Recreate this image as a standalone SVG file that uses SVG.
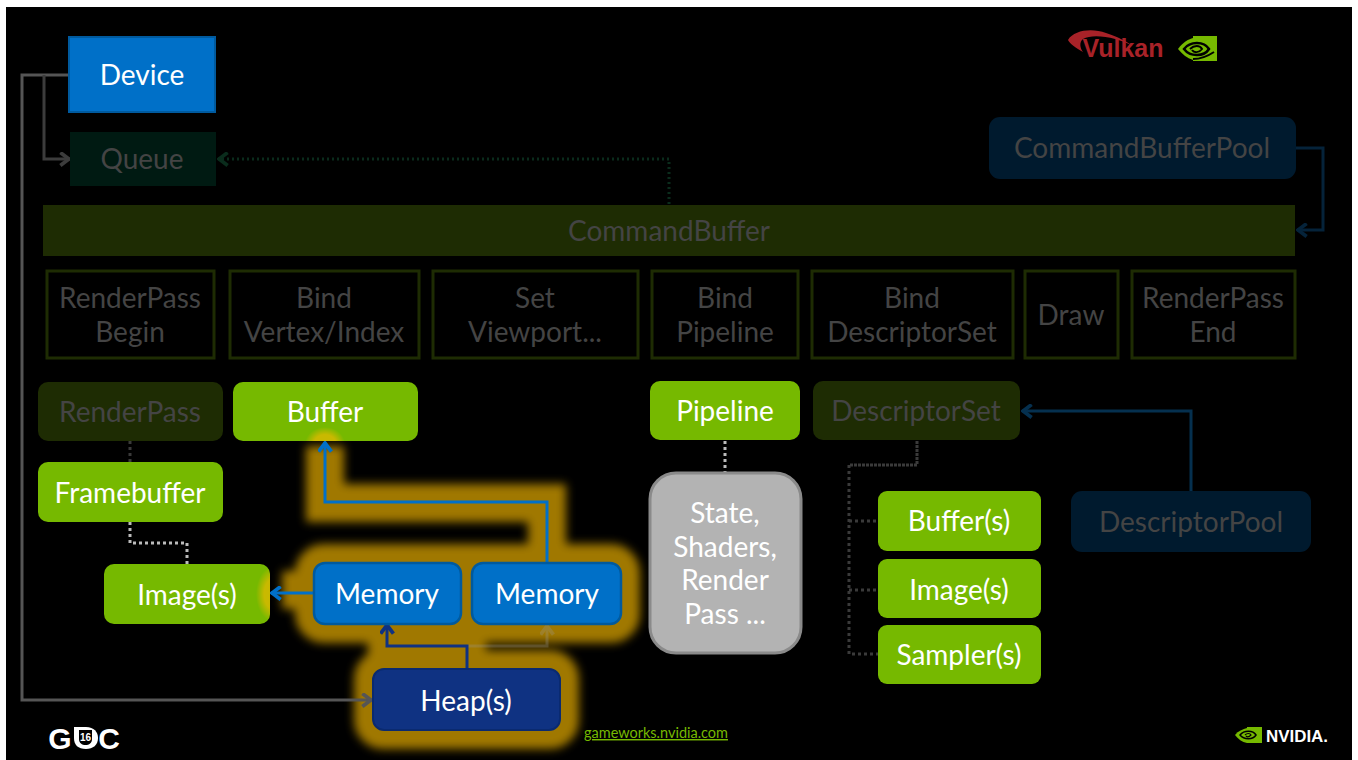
<svg xmlns="http://www.w3.org/2000/svg" width="1358" height="760" viewBox="0 0 1358 760">
<style>
text{font-family:Lato,"Noto Sans",sans-serif;font-size:28px;text-anchor:middle;fill:#fff}
.dim{fill:#444}
.green{fill:#76b900}
.dgreen{fill:#1e2c03}
.dblue{fill:#001a2e}
.outline{fill:none;stroke:#1e2c03;stroke-width:3}
.conn{fill:none;stroke-width:3}
.bold{font-family:"Liberation Sans",Arial,sans-serif;font-weight:700}
</style>
<defs>
<filter id="glow" x="-30%" y="-30%" width="160%" height="160%"><feGaussianBlur stdDeviation="5"/></filter>
<marker id="ah" viewBox="0 0 12 14" refX="11" refY="7" markerWidth="13" markerHeight="15" markerUnits="userSpaceOnUse" orient="auto"><path d="M2 1L10 7L2 13" fill="none" stroke="context-stroke" stroke-width="3.5"/></marker>
<radialGradient id="hot"><stop offset="0" stop-color="#c9b900"/><stop offset=".55" stop-color="#c9b900"/><stop offset="1" stop-color="#c9b900" stop-opacity="0"/></radialGradient>
<clipPath id="clip-buffer"><rect x="233" y="382" width="185" height="59" rx="10"/></clipPath>
<clipPath id="clip-image"><rect x="104" y="564" width="166" height="60" rx="10"/></clipPath>
</defs>
<rect width="1358" height="760" fill="#fff"/>
<rect x="6" y="7" width="1346" height="753" fill="#000"/>
<g id="glow-layer" fill="#a07800" stroke="#a07800" stroke-width="38" filter="url(#glow)">
<rect x="314" y="563" width="307" height="61" rx="10"/>
<rect x="373" y="669" width="187" height="61" rx="10"/>
<path d="M325 446V503H547V562M387 624V646H467V669M313 590H282" fill="none"/>
</g>
<g id="connectors">
<path class="conn" d="M68 75H22V700H372" stroke="#555" marker-end="url(#ah)"/>
<path class="conn" d="M44 75V159H70" stroke="#3c3c3c" marker-end="url(#ah)"/>
<path class="conn" d="M669 204V159H218" stroke="#0a2c1c" stroke-dasharray="2 3" marker-end="url(#ah)"/>
<path class="conn" d="M1296 148H1323V230H1297" stroke="#05233a" marker-end="url(#ah)"/>
<path class="conn" d="M130 441V462" stroke="#3a3a3a" stroke-dasharray="3 3"/>
<path class="conn" d="M130 522V543H187V564" stroke="#bbb" stroke-dasharray="3 3"/>
<path class="conn" d="M725 441V472" stroke="#bbb" stroke-dasharray="3 3"/>
<path class="conn" d="M917 441V465H849" stroke="#3a3a3a" stroke-dasharray="3 1"/>
<path class="conn" d="M849 465V654H878M849 521H878M849 590H878" stroke="#3a3a3a" stroke-dasharray="3 3"/>
<path class="conn" d="M1191 491V411H1022" stroke="#05304f" marker-end="url(#ah)"/>
<path class="conn" d="M467 646H547V625" stroke="#999" opacity=".28" marker-end="url(#ah)"/>
<path class="conn" d="M547 562V502H325V442" stroke="#0070c8" marker-end="url(#ah)"/>
<path class="conn" d="M313 593H271" stroke="#0070c8" marker-end="url(#ah)"/>
<path class="conn" d="M467 669V646H387V624" stroke="#0f3282" marker-end="url(#ah)"/>
</g>
<g id="device"><rect x="69" y="37" width="146" height="75" fill="#0070c8" stroke="#005a9e" stroke-width="2"/><text x="142" y="85">Device</text></g>
<g id="queue"><rect x="70" y="132" width="146" height="54" fill="#001a12"/><text class="dim" x="142" y="169">Queue</text></g>
<g id="commandbufferpool"><rect x="989" y="117" width="307" height="62" rx="11" class="dblue"/><text class="dim" x="1142" y="158">CommandBufferPool</text></g>
<g id="commandbuffer"><rect x="43" y="205" width="1252" height="51" class="dgreen"/><text class="dim" x="669" y="241">CommandBuffer</text></g>
<g id="rp-begin"><rect x="47" y="271" width="167" height="87" class="outline"/><text class="dim" x="130" y="308">RenderPass</text><text class="dim" x="130" y="342">Begin</text></g>
<g id="bind-vertex"><rect x="230" y="271" width="189" height="87" class="outline"/><text class="dim" x="324" y="308">Bind</text><text class="dim" x="324" y="342">Vertex/Index</text></g>
<g id="set-viewport"><rect x="433" y="271" width="205" height="87" class="outline"/><text class="dim" x="535" y="308">Set</text><text class="dim" x="535" y="342">Viewport...</text></g>
<g id="bind-pipeline"><rect x="652" y="271" width="146" height="87" class="outline"/><text class="dim" x="725" y="308">Bind</text><text class="dim" x="725" y="342">Pipeline</text></g>
<g id="bind-descriptorset"><rect x="812" y="271" width="201" height="87" class="outline"/><text class="dim" x="912" y="308">Bind</text><text class="dim" x="912" y="342">DescriptorSet</text></g>
<g id="draw"><rect x="1025" y="271" width="93" height="87" class="outline"/><text class="dim" x="1071" y="325">Draw</text></g>
<g id="rp-end"><rect x="1132" y="271" width="163" height="87" class="outline"/><text class="dim" x="1213" y="308">RenderPass</text><text class="dim" x="1213" y="342">End</text></g>
<g id="renderpass"><rect x="38" y="382" width="185" height="59" rx="10" class="dgreen"/><text class="dim" x="130" y="422">RenderPass</text></g>
<g id="buffer"><rect x="233" y="382" width="185" height="59" rx="10" class="green"/><ellipse cx="325" cy="444" rx="20" ry="17" fill="url(#hot)" clip-path="url(#clip-buffer)"/><text x="325" y="422">Buffer</text></g>
<g id="pipeline"><rect x="650" y="381" width="150" height="59" rx="10" class="green"/><text x="725" y="421">Pipeline</text></g>
<g id="descriptorset"><rect x="813" y="381" width="207" height="59" rx="10" class="dgreen"/><text class="dim" x="916" y="421">DescriptorSet</text></g>
<g id="framebuffer"><rect x="38" y="462" width="185" height="60" rx="10" class="green"/><text x="130" y="503">Framebuffer</text></g>
<g id="images"><rect x="104" y="564" width="166" height="60" rx="10" class="green"/><ellipse cx="274" cy="594" rx="18" ry="28" fill="url(#hot)" clip-path="url(#clip-image)"/><text x="187" y="605">Image(s)</text></g>
<g id="memory1"><rect x="314" y="563" width="147" height="61" rx="11" fill="#0070c8" stroke="#005a9e" stroke-width="2.5"/><text x="387" y="604">Memory</text></g>
<g id="memory2"><rect x="472" y="563" width="149" height="61" rx="11" fill="#0070c8" stroke="#005a9e" stroke-width="2.5"/><text x="547" y="604">Memory</text></g>
<g id="heap"><rect x="373" y="669" width="187" height="61" rx="11" fill="#0f3282" stroke="#0a2a70" stroke-width="2"/><text x="466" y="711">Heap(s)</text></g>
<g id="state"><rect x="650" y="473" width="151" height="180" rx="26" fill="#b3b3b3" stroke="#8a8a8a" stroke-width="3"/><text x="725" y="523">State,</text><text x="725" y="557">Shaders,</text><text x="725" y="590">Render</text><text x="725" y="624">Pass ...</text></g>
<g id="buffers"><rect x="878" y="491" width="163" height="60" rx="9" class="green"/><text x="959" y="531">Buffer(s)</text></g>
<g id="images2"><rect x="878" y="559" width="163" height="59" rx="9" class="green"/><text x="959" y="600">Image(s)</text></g>
<g id="samplers"><rect x="878" y="625" width="163" height="59" rx="9" class="green"/><text x="959" y="665">Sampler(s)</text></g>
<g id="descriptorpool"><rect x="1071" y="491" width="240" height="61" rx="11" class="dblue"/><text class="dim" x="1191" y="532">DescriptorPool</text></g>
<g id="logo-vulkan">
<text x="1123" y="57" class="bold" style="font-size:25px;fill:#a82228" textLength="81" lengthAdjust="spacingAndGlyphs">Vulkan</text>
<path d="M1068 40C1074 30 1092 28 1106 33C1118 37 1126 41 1133 46C1118 38 1094 33 1083 39C1079 42 1080 48 1083 52C1076 48 1070 44 1068 40Z" fill="#a82228"/>
</g>
<g id="logo-nvidia-top" fill="none">
<rect x="1193" y="36" width="24" height="25" fill="#76b900"/>
<path d="M1178 49C1183 42 1189 39 1193 38V60C1187 58 1182 54 1178 49Z" fill="#76b900"/>
<path d="M1184 49C1190 41 1204 41 1209 49C1204 57 1190 57 1184 49Z" stroke="#000" stroke-width="2.5"/>
<path d="M1190 49C1194 45 1200 45 1202 49C1199 53 1194 53 1192 50" stroke="#000" stroke-width="2"/>
<path d="M1193 59C1201 59 1208 56 1214 52" stroke="#000" stroke-width="2"/>
</g>
<g id="logo-gdc">
<text x="60" y="749" class="bold" style="font-size:30px">G</text>
<path d="M74 727H86C94 727 98 732 98 738C98 745 93 749 86 749C78 749 74 745 74 738Z" fill="#fff"/>
<path d="M79 730H92V739C92 743 89 745 85.500 745C82 745 79 743 79 739Z" fill="#000"/>
<text x="85.500" y="741" class="bold" style="font-size:10px">16</text>
<text x="109" y="749" class="bold" style="font-size:30px">C</text>
</g>
<text id="link" x="656" y="738" style="font-size:14.5px;fill:#76b900;text-decoration:underline" textLength="144" lengthAdjust="spacingAndGlyphs">gameworks.nvidia.com</text>
<g id="logo-nvidia-bottom" fill="none">
<rect x="1247" y="727" width="15" height="16" fill="#76b900"/>
<path d="M1235 735C1238 731 1243 729 1247 728V743C1242 742 1238 739 1235 735Z" fill="#76b900"/>
<path d="M1240 735C1244 730 1253 730 1256 735C1253 740 1244 740 1240 735Z" stroke="#000" stroke-width="1.5"/>
<path d="M1245 735C1247 733 1250 733 1251 735C1249 737 1247 737 1246 736" stroke="#000" stroke-width="1.2"/>
<text x="1297" y="742" class="bold" style="font-size:16px" textLength="62" lengthAdjust="spacingAndGlyphs">NVIDIA.</text>
</g>
</svg>
